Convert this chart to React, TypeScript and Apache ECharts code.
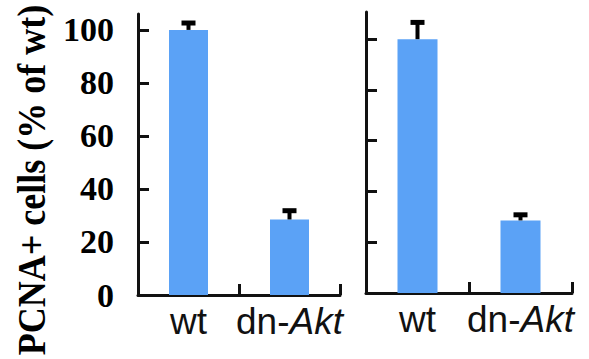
import React, { useEffect, useRef } from "react";
import * as echarts from "echarts";

const categories = ["wt", "dn-Akt"];
const leftValues = [100, 28.5];
const leftErrors = [2.6, 3.3];
const rightValues = [100, 28.6];
const rightErrors = [6.6, 2.2];
const yTicks = [0, 20, 40, 60, 80, 100];
const yTitle = "PCNA+ cells (% of wt)";

const BAR_COLOR = "#5ba2f6";
const AXIS_COLOR = "#111";

function errorSeries(gridIdx: number, values: number[], errors: number[]) {
  return {
    type: "custom",
    xAxisIndex: gridIdx,
    yAxisIndex: gridIdx,
    z: 5,
    silent: true,
    data: categories.map((_, i) => [i, values[i], errors[i]]),
    encode: { x: 0, y: 1 },
    renderItem: (params: any, api: any) => {
      const x = api.value(0);
      const v = api.value(1);
      const e = api.value(2);
      const base = api.coord([x, v]);
      const top = api.coord([x, v + e]);
      return {
        type: "group",
        children: [
          {
            type: "line",
            shape: { x1: base[0], y1: base[1], x2: top[0], y2: top[1] },
            style: { stroke: "#000", lineWidth: 4 },
          },
          {
            type: "line",
            shape: { x1: top[0] - 7, y1: top[1], x2: top[0] + 7, y2: top[1] },
            style: { stroke: "#000", lineWidth: 5 },
          },
        ],
      };
    },
  };
}

function xAxis(gridIndex: number) {
  return {
    type: "category",
    gridIndex,
    data: categories,
    boundaryGap: true,
    axisLine: { show: true, lineStyle: { color: AXIS_COLOR, width: 3 } },
    axisTick: { show: true, inside: true, length: 11, lineStyle: { color: AXIS_COLOR, width: 3 } },
    axisLabel: {
      interval: 0,
      hideOverlap: false,
      margin: 8,
      color: "#111",
      fontFamily: "Liberation Sans",
      fontSize: 37,
      formatter: (v: string) => (v === "dn-Akt" ? "{n|dn-}{i|Akt}" : "{n|" + v + "}"),
      rich: {
        n: { fontFamily: "Liberation Sans", fontSize: 37, color: "#111" },
        i: { fontFamily: "Liberation Sans", fontSize: 37, fontStyle: "italic", color: "#111" },
      },
    },
    splitLine: { show: false },
  };
}

function yAxis(gridIndex: number, max: number, showLabels: boolean) {
  return {
    type: "value",
    gridIndex,
    min: 0,
    max,
    axisLine: { show: true, lineStyle: { color: AXIS_COLOR, width: 3 } },
    axisTick: {
      show: true,
      inside: true,
      length: 11,
      customValues: yTicks,
      lineStyle: { color: AXIS_COLOR, width: 3 },
    },
    axisLabel: {
      show: showLabels,
      customValues: yTicks,
      margin: 24,
      color: "#000",
      fontFamily: "Liberation Serif",
      fontWeight: "bold",
      fontSize: 34,
    },
    splitLine: { show: false },
  };
}

export default function App() {
  const ref = useRef<HTMLDivElement>(null);
  useEffect(() => {
    if (!ref.current) return;
    const chart = echarts.init(ref.current, null, { renderer: "svg" });
    chart.setOption({
      animation: false,
      backgroundColor: "#fff",
      grid: [
        { left: 138, top: 14, width: 202, height: 281 },
        { left: 366, top: 12, width: 206, height: 281 },
      ],
      xAxis: [xAxis(0), xAxis(1)],
      yAxis: [yAxis(0, 106, true), yAxis(1, 110.7, false)],
      graphic: [
        {
          type: "text",
          x: 31,
          y: 180,
          rotation: Math.PI / 2,
          scaleY: 1.1,
          style: {
            text: yTitle,
            fontFamily: "Liberation Serif",
            fontWeight: "bold",
            fontSize: 36,
            fill: "#000",
            align: "center",
            verticalAlign: "middle",
          },
        },
      ],
      series: [
        {
          type: "bar",
          xAxisIndex: 0,
          yAxisIndex: 0,
          data: leftValues,
          barWidth: 39,
          itemStyle: { color: BAR_COLOR },
        },
        {
          type: "bar",
          xAxisIndex: 1,
          yAxisIndex: 1,
          data: rightValues,
          barWidth: 40,
          itemStyle: { color: BAR_COLOR },
        },
        errorSeries(0, leftValues, leftErrors),
        errorSeries(1, rightValues, rightErrors),
      ],
    });
    return () => chart.dispose();
  }, []);
  return (
    <div
      ref={ref}
      style={{ position: "absolute", left: 0, top: 0, width: 589, height: 359 }}
    />
  );
}
